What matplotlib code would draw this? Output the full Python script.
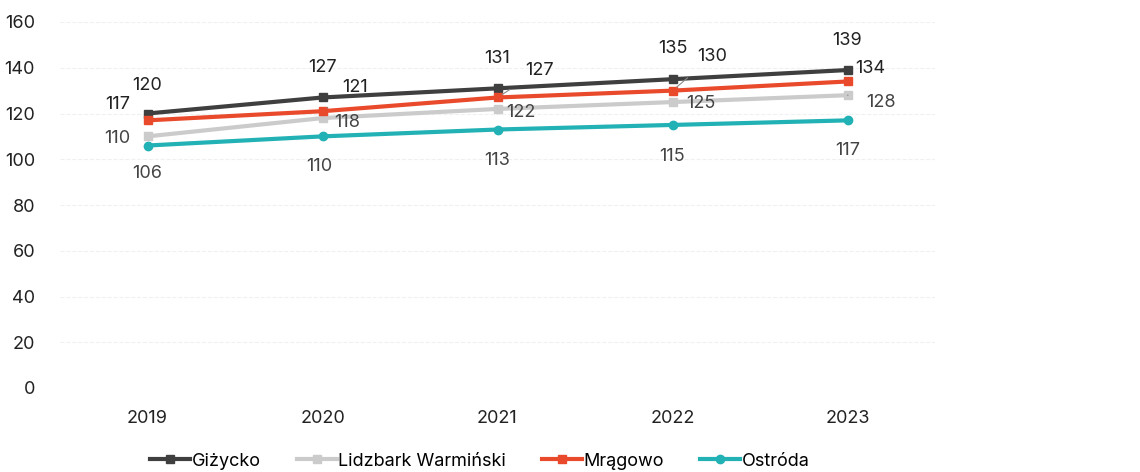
import matplotlib.pyplot as plt

years = ['2019', '2020', '2021', '2022', '2023']
gizycko = [120, 127, 131, 135, 139]
lidzbark = [110, 118, 122, 125, 128]
mragowo = [117, 121, 127, 130, 134]
ostroda = [106, 110, 113, 115, 117]

plt.rcParams['font.family'] = ['Inter', 'DejaVu Sans']

fig = plt.figure(figsize=(11.4, 4.72), dpi=100)
ax = fig.add_axes([60 / 1140, 84 / 472, 875 / 1140, 366 / 472])

x = list(range(len(years)))
series = [
    ('Giżycko', gizycko, '#3f3f3f', 's'),
    ('Lidzbark Warmiński', lidzbark, '#cbcbcb', 's'),
    ('Mrągowo', mragowo, '#ea4a2c', 's'),
    ('Ostróda', ostroda, '#22b1b4', 'o'),
]
for name, vals, color, marker in series:
    ax.plot(x, vals, color=color, lw=3, marker=marker, markersize=6, label=name)

# label offsets in pixels (dx, dy), converted to points below
offsets = {
    'Giżycko': [(0, 28), (0, 30), (0, 30), (0, 31), (0, 30)],
    'Lidzbark Warmiński': [(-30, -2), (25, -4), (23, -4), (28, -1), (33, -7)],
    'Mrągowo': [(-30, 16), (33, 24), (42, 27), (40, 34), (23, 13)],
    'Ostróda': [(0, -28), (-3, -30), (0, -31), (0, -32), (0, -30)],
}
# which labels get a small leader line
leaders = {
    'Mrągowo': [False, True, True, True, False],
    'Lidzbark Warmiński': [False, False, False, False, True],
}
text_colors = {
    'Giżycko': '#222222',
    'Lidzbark Warmiński': '#444444',
    'Mrągowo': '#222222',
    'Ostróda': '#444444',
}
for name, vals, color, marker in series:
    for i, v in enumerate(vals):
        dx, dy = offsets[name][i]
        arrow = None
        if leaders.get(name, [False] * 5)[i]:
            arrow = dict(arrowstyle='-', color='#8a8a8a', lw=0.8,
                         shrinkA=11, shrinkB=4)
        ax.annotate(str(v), (x[i], v), xytext=(dx * 0.72, dy * 0.72),
                    textcoords='offset points', ha='center', va='center',
                    fontsize=13, color=text_colors[name], arrowprops=arrow)

ax.set_xlim(-0.5, 4.5)
ax.set_ylim(0, 160)
ax.set_yticks(range(0, 161, 20))
ax.set_xticks(x)
ax.set_xticklabels(years)
ax.tick_params(axis='both', length=0, labelsize=13, colors='#222222')
ax.tick_params(axis='y', pad=18)
ax.tick_params(axis='x', pad=16)
ax.grid(axis='y', color='#f0f0f0', lw=0.8, ls='--')
ax.set_axisbelow(True)
for s in ax.spines.values():
    s.set_visible(False)

ax.legend(loc='center', bbox_to_anchor=(480 / 1140, 11 / 472),
          bbox_transform=fig.transFigure, ncol=4, frameon=False,
          fontsize=13, handlelength=2.2, handletextpad=0.1, columnspacing=2.0)

fig.savefig('out.png', dpi=100)
